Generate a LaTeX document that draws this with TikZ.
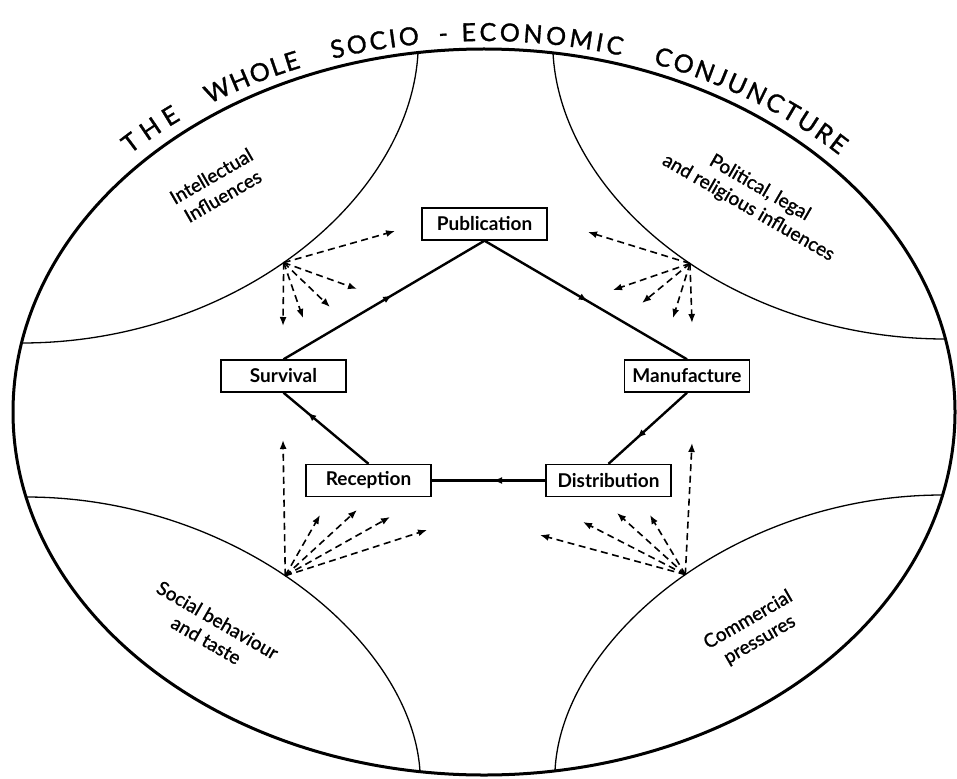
\documentclass[tikz,border=0pt]{standalone}
\usepackage{fontspec}
\setmainfont{Lato}
\newfontfamily\medfam[FakeBold=1.2]{Lato}
\usetikzlibrary{arrows.meta,decorations.markings,decorations.text}
\newcommand{\boxfnt}{\fontsize{19}{19}\selectfont\bfseries}
\newcommand{\labfnt}{\fontsize{19}{23}\selectfont\medfam}
\newcommand{\ttlfnt}{\fontsize{25}{25}\selectfont\medfam}
\begin{document}
\begin{tikzpicture}[x=1pt,y=-1pt,
  box/.style={draw, line width=1.4pt, fill=white, minimum width=125pt, minimum height=32pt, inner sep=0pt, font=\boxfnt},
  lab/.style={align=center, font=\labfnt, inner sep=0pt},
  rim/.style={line width=3pt},
  lens/.style={line width=1.3pt},
  flow/.style={line width=2.4pt, postaction={decorate}, decoration={markings, mark=at position #1 with {\arrow{Latex[length=9pt,width=7pt]}}}},
  infl/.style={line width=1.6pt, dash pattern=on 7pt off 4.5pt, -{Latex[length=9pt,width=7pt]}},
  ttl/.style={decorate, decoration={text along path, text align={fit to path}, text={|\ttlfnt|#1}}}
]
\useasboundingbox (0,0) rectangle (957,778);
\fill[white] (0,0) rectangle (957,778);
% outer ellipse
\draw[rim] (484,412) ellipse[x radius=471, y radius=363];
% corner lenses
\draw[lens] (418,52.6) .. controls (410,200) and (235,343) .. (21.6,343) coordinate[pos=0.53] (o1);
\draw[lens] (553,52.9) .. controls (561,200) and (733,339) .. (945.4,339) coordinate[pos=0.54] (o2);
\draw[lens] (26.1,497) .. controls (235,497) and (412,640) .. (420,771.6) coordinate[pos=0.47] (o3);
\draw[lens] (942.5,495) .. controls (733,495) and (561,640) .. (555,770.9) coordinate[pos=0.47] (o4);
% title along the rim
\begin{scope}[y=1pt]
\path[ttl=THE] (484,-412) ++(136.0:492 and 371) arc[start angle=136.0, end angle=128.0, x radius=492, y radius=371];
\path[ttl=WHOLE] (484,-412) ++(123.9:492 and 371) arc[start angle=123.9, end angle=111.8, x radius=492, y radius=371];
\path[ttl=SOCIO] (484,-412) ++(107.9:492 and 371) arc[start angle=107.9, end angle=97.5, x radius=492, y radius=371];
\path[decorate, decoration={text along path, text align=center, text={|\ttlfnt|-}}] (484,-412) ++(97.2:492 and 371) arc[start angle=97.2, end angle=92.2, x radius=492, y radius=371];
\path[ttl=ECONOMIC] (484,-412) ++(92.6:492 and 371) arc[start angle=92.6, end angle=73.8, x radius=492, y radius=371];
\path[ttl=CONJUNCTURE] (484,-412) ++(69.9:492 and 371) arc[start angle=69.9, end angle=43.8, x radius=492, y radius=371];
\end{scope}
% corner labels
\node[lab, rotate=30] (intel) at (217,186) {Intellectual\\Influences};
\node[lab, rotate=-30] (polit) at (754,198) {Political, legal\\and religious influences};
\node[lab, rotate=-30] (social) at (212,630) {Social behaviour\\and taste};
\node[lab, rotate=30] (comm) at (754,630) {Commercial\\pressures};
% influence arrow ends
\coordinate (a1) at (395,231);
\coordinate (a2) at (357,289);
\coordinate (a3) at (330,307);
\coordinate (a4) at (303,318);
\coordinate (a5) at (283,326);
\coordinate (b1) at (588,232);
\coordinate (b2) at (613,290);
\coordinate (b3) at (642,303);
\coordinate (b4) at (673,318);
\coordinate (b5) at (692,323);
\coordinate (c1) at (283,440);
\coordinate (c2) at (320,515);
\coordinate (c3) at (357,510);
\coordinate (c4) at (390,517);
\coordinate (c5) at (427,530);
\coordinate (d1) at (692,443);
\coordinate (d2) at (650,515);
\coordinate (d3) at (617,513);
\coordinate (d4) at (583,522);
\coordinate (d5) at (540,535);
\foreach \e in {a1,a2,a3,a4,a5} \draw[infl] (o1) -- (\e);
\foreach \e in {b1,b2,b3,b4,b5} \draw[infl] (o2) -- (\e);
\foreach \e in {c1,c2,c3,c4,c5} \draw[infl] (o3) -- (\e);
\foreach \e in {d1,d2,d3,d4,d5} \draw[infl] (o4) -- (\e);
% circuit
\node[box] (pub) at (484.5,224) {Publication};
\node[box] (sur) at (283.5,376) {Survival};
\node[box] (man) at (687,376) {Manufacture};
\node[box] (rec) at (368.5,480.5) {Reception};
\node[box] (dis) at (608.5,480.5) {Distribution};
\draw[flow=0.51] (pub.south) -- (man.north);
\draw[flow=0.64] (man.south) -- (dis.north);
\draw[flow=0.46] (dis.west) -- (rec.east);
\draw[flow=0.72] (rec.north) -- (sur.south);
\draw[flow=0.54] (sur.north) -- (pub.south);
\end{tikzpicture}
\end{document}
